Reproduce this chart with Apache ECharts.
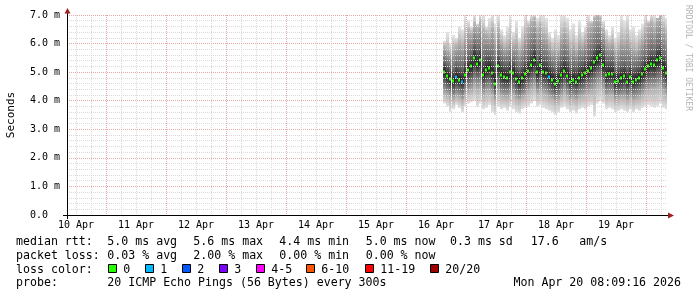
<!DOCTYPE html>
<html><head><meta charset="utf-8">
<script src="https://cdn.jsdelivr.net/npm/echarts@6/dist/echarts.min.js"></script>
<style>html,body{margin:0;padding:0;background:#fff}#c{width:697px;height:297px}</style>
</head><body><div id="c"></div>
<script>
// ---- axis / tick data (hours since Apr 10 00:00) ----
const START_H = 8.4, SPAN_H = 240;   // graph covers Apr 10 08:24 .. Apr 20 08:24
const dayLabels = ['10 Apr','11 Apr','12 Apr','13 Apr','14 Apr','15 Apr','16 Apr','17 Apr','18 Apr','19 Apr'];
const dayLabelHours = [12,36,60,84,108,132,156,180,204,228];
const midnightHours = [24,48,72,96,120,144,168,192,216,240];
const yTickLabels = ['0.0  ','1.0 m','2.0 m','3.0 m','4.0 m','5.0 m','6.0 m','7.0 m'];

// ---- series data: one column every 1.2 h starting Apr 16 15:12 (hour 159.2) ----
const T0 = 159.2, STEP = 1.2;
const medianMs = [5.02,4.85,4.75,4.68,4.82,4.73,4.67,4.9,5.08,5.2,5.5,5.3,5.43,4.9,5.08,5.14,4.97,4.6,5.2,4.9,
 4.83,4.8,5.0,4.97,4.75,4.67,4.8,4.95,5.05,5.25,5.43,5.0,5.25,5.0,4.97,4.84,4.73,4.6,4.7,4.9,
 5.05,4.88,4.67,4.73,4.67,4.8,4.9,4.97,5.05,5.15,5.35,5.5,5.6,5.25,4.9,4.94,4.94,4.65,4.7,4.8,
 4.85,4.67,4.84,4.67,4.73,4.8,4.95,5.1,5.2,5.3,5.25,5.43,5.5,5.15,4.97];
const lossCount = [0,0,0,0,1,0,1,0,0,0,0,0,0,0,0,0,0,0,0,0,
 0,0,0,0,0,0,0,0,0,0,0,0,0,0,0,1,0,0,0,0,
 0,0,0,0,0,0,0,0,0,0,0,0,0,0,0,0,0,0,0,0,
 0,0,0,0,0,0,0,0,0,0,0,0,0,0,0];
const smokeMax = [6.1,6.4,6.0,6.3,6.2,6.6,6.5,7.0,6.8,6.6,7.0,6.7,7.0,7.0,6.6,6.9,7.0,6.7,7.0,6.5,
 6.3,6.6,7.0,6.4,6.8,6.2,6.6,7.0,6.8,7.0,7.0,6.9,7.0,7.0,6.9,6.4,6.2,6.5,6.3,7.0,
 7.0,6.9,6.5,6.7,6.3,6.8,6.4,6.6,7.0,6.8,7.0,7.0,7.0,6.8,6.5,6.3,6.6,6.2,6.4,7.0,
 6.8,7.0,6.5,6.6,6.3,6.5,6.7,7.0,6.8,7.0,7.0,6.9,7.0,7.0,6.9];
const smokeP90 = [5.9,5.8,5.7,5.85,5.95,6.1,6.0,6.3,6.5,6.4,6.7,6.6,6.8,6.5,6.4,6.3,6.6,6.2,6.5,6.1,
 5.9,6.0,6.2,6.0,6.1,5.8,6.0,6.4,6.6,6.8,6.9,6.5,6.7,6.4,6.3,6.0,5.8,5.9,5.8,6.3,
 6.5,6.3,5.9,6.0,5.8,6.1,6.0,6.2,6.6,6.7,6.9,7.0,6.9,6.5,6.1,6.0,6.1,5.8,5.9,6.2,
 6.1,6.3,6.0,5.9,5.8,6.0,6.2,6.5,6.7,6.8,6.6,6.9,7.0,6.6,6.4];
const smokeP75 = [5.35,5.25,5.15,5.1,5.25,5.2,5.15,5.4,5.55,5.65,5.95,5.8,5.9,5.5,5.6,5.6,5.5,5.3,5.6,5.4,
 5.3,5.3,5.45,5.4,5.2,5.1,5.25,5.4,5.55,5.75,5.9,5.5,5.7,5.5,5.45,5.3,5.2,5.1,5.2,5.4,
 5.55,5.4,5.15,5.2,5.15,5.3,5.35,5.45,5.55,5.65,5.85,6.0,6.05,5.75,5.4,5.4,5.4,5.1,5.15,5.25,
 5.3,5.15,5.3,5.15,5.2,5.25,5.4,5.55,5.65,5.75,5.7,5.9,5.95,5.6,5.45];
const smokeP25 = [4.65,4.55,4.45,4.4,4.5,4.45,4.4,4.6,4.7,4.8,5.0,4.9,4.95,4.6,4.7,4.75,4.6,4.35,4.8,4.55,
 4.5,4.5,4.6,4.6,4.45,4.35,4.45,4.55,4.7,4.85,4.95,4.65,4.8,4.65,4.6,4.5,4.4,4.3,4.4,4.55,
 4.7,4.55,4.4,4.45,4.4,4.5,4.55,4.6,4.7,4.8,4.9,5.05,5.1,4.85,4.55,4.6,4.6,4.35,4.4,4.45,
 4.5,4.4,4.5,4.4,4.45,4.5,4.6,4.7,4.8,4.85,4.85,4.95,5.0,4.75,4.6];
const smokeP10 = [4.25,4.2,4.1,4.05,4.15,4.1,4.0,4.2,4.3,4.35,4.5,4.4,4.45,4.2,4.3,4.3,4.2,4.0,4.3,4.15,
 4.1,4.1,4.2,4.2,4.05,4.0,4.1,4.15,4.3,4.4,4.5,4.25,4.35,4.25,4.2,4.1,4.05,3.95,4.0,4.15,
 4.3,4.15,4.0,4.05,4.0,4.1,4.15,4.2,4.25,4.3,4.35,4.5,4.55,4.4,4.15,4.2,4.2,4.0,4.05,4.1,
 4.1,4.0,4.1,4.0,4.05,4.1,4.2,4.3,4.35,4.4,4.4,4.45,4.5,4.3,4.2];
const smokeMin = [3.9,3.8,3.6,3.7,3.85,3.75,3.6,3.8,3.9,3.95,4.0,3.8,3.9,3.7,3.75,3.85,3.6,3.5,3.8,3.7,
 3.75,3.65,3.8,3.7,3.6,3.55,3.7,3.75,3.8,3.9,4.0,3.8,3.85,3.75,3.7,3.65,3.6,3.5,3.6,3.75,
 3.8,3.7,3.6,3.65,3.55,3.7,3.75,3.7,3.8,3.85,3.45,3.9,4.0,3.9,3.7,3.75,3.7,3.6,3.65,3.7,
 3.65,3.6,3.7,3.6,3.7,3.65,3.75,3.8,3.85,3.8,3.75,3.8,3.9,3.75,3.7];

const lossColors = ['#26ff00','#00b8ff','#0059ff','#7e00ff','#ff00ff','#ff5500','#ff0000','#a10000'];
const lossLabels = ['0','1','2','3','4-5','6-10','11-19','20/20'];

// ---- build rows (x = hours since graph start) ----
const rel = h => +(h - START_H).toFixed(4);
const rows = medianMs.map((m, i) => [rel(T0 + i * STEP), smokeMin[i], smokeP10[i], smokeP25[i], m, smokeP75[i], smokeP90[i], smokeMax[i], lossCount[i]]);
const minorHours = [];
for (let h = 12; h <= 246; h += 6) if (h % 24 !== 0) minorHours.push(rel(h));
const majorRel = midnightHours.map(rel);
const labelRel = dayLabelHours.map(rel);

function lossColor(n){
  if (n <= 0) return lossColors[0];
  if (n === 1) return lossColors[1];
  if (n === 2) return lossColors[2];
  if (n === 3) return lossColors[3];
  if (n <= 5) return lossColors[4];
  if (n <= 10) return lossColors[5];
  if (n <= 19) return lossColors[6];
  return lossColors[7];
}

function colBounds(api, t){
  const xL = Math.round(api.coord([t - STEP/2, 0])[0]);
  const xR = Math.round(api.coord([t + STEP/2, 0])[0]);
  return [xL, xR - xL];
}

function renderSmoke(params, api){
  const t = api.value(0);
  const [x, w] = colBounds(api, t);
  const Y = v => api.coord([t, Math.min(v, 7)])[1];
  const vals = [7,6,5,4,3,2,1].map(k => api.value(k)); // top,p90,p75,med,p25,p10,bot
  const ys = vals.map(Y);
  const h = Math.max(1, ys[6] - ys[0]);
  const cols = ['#e6e6e6','#b6b6b6','#6a6a6a','#202020','#686868','#b2b2b2','#e2e2e2'];
  const stops = ys.map((y, k) => ({offset: Math.min(1, Math.max(0, (y - ys[0]) / h)), color: cols[k]}));
  return {type:'rect', shape:{x:x, y:ys[0], width:w, height:h},
    style:{fill:new echarts.graphic.LinearGradient(0,0,0,1,stops)}};
}

function renderMedian(params, api){
  const t = api.value(0);
  const [x, w] = colBounds(api, t);
  const y = api.coord([t, api.value(4)])[1];
  return {type:'rect', shape:{x:x, y:Math.round(y)-1.5, width:2, height:3},
          style:{fill:lossColor(api.value(8))}};
}

const MONO = 'DejaVu Sans Mono';
const chart = echarts.init(document.getElementById('c'), null, {renderer:'canvas'});

const legendTexts = [
  [16,241.5,'median rtt:'],[107.3,241.5,'5.0 ms avg'],[193.3,241.5,'5.6 ms max'],[279.3,241.5,'4.4 ms min'],
  [365.7,241.5,'5.0 ms now'],[450,241.5,'0.3 ms sd'],[530.7,241.5,'17.6'],[579.3,241.5,'am/s'],
  [16,255.5,'packet loss:'],[107.3,255.5,'0.03 % avg'],[193.3,255.5,'2.00 % max'],[279.3,255.5,'0.00 % min'],[365.7,255.5,'0.00 % now'],
  [16,269.5,'loss color:'],
  [16,283,'probe:'],[107.3,283,'20 ICMP Echo Pings (56 Bytes) every 300s']
];
const boxX = [108.5,145.5,182.5,219.5,256.5,306.5,365.5,430.5];
const graphics = [];
legendTexts.forEach(([x,y,s]) => graphics.push({type:'text', x:x, y:y, z:20,
  style:{text:s, fill:'#000', font:'11.6px "'+MONO+'"', textAlign:'left', textVerticalAlign:'middle'}}));
boxX.forEach((bx, i) => {
  graphics.push({type:'rect', z:20, shape:{x:bx, y:264.5, width:8, height:8}, style:{fill:lossColors[i], stroke:'#000', lineWidth:1}});
  graphics.push({type:'text', z:20, x:bx+14.8, y:269.5, style:{text:lossLabels[i], fill:'#000', font:'11.6px "'+MONO+'"', textAlign:'left', textVerticalAlign:'middle'}});
});
graphics.push({type:'text', z:20, x:681, y:283, style:{text:'Mon Apr 20 08:09:16 2026', fill:'#000', font:'11.6px "'+MONO+'"', textAlign:'right', textVerticalAlign:'middle'}});
graphics.push({type:'text', z:20, x:688, y:5, rotation:-Math.PI/2, style:{text:'RRDTOOL / TOBI OETIKER', fill:'#b4b4b4', font:'8px "'+MONO+'"', textAlign:'left', textVerticalAlign:'middle'}});
// axis line extensions (like rrdtool) and arrows
graphics.push({type:'line', z:20, shape:{x1:63, y1:215.5, x2:668, y2:215.5}, style:{stroke:'#000', lineWidth:1}});
graphics.push({type:'line', z:20, shape:{x1:67.5, y1:219, x2:67.5, y2:12}, style:{stroke:'#000', lineWidth:1}});
graphics.push({type:'polygon', z:21, shape:{points:[[64.5,13.5],[70.5,13.5],[67.5,8]]}, style:{fill:'#a02020'}});
graphics.push({type:'polygon', z:21, shape:{points:[[668,212.5],[668,218.5],[674,215.5]]}, style:{fill:'#a02020'}});

chart.setOption({
  animation:false,
  backgroundColor:'#ffffff',
  grid:{left:67, top:15, right:30, bottom:82, containLabel:false, outerBoundsMode:'none'},
  xAxis:[{
    type:'value', min:0, max:SPAN_H, z:5,
    axisLine:{show:false},
    axisTick:{show:false, customValues:minorHours},
    splitLine:{show:true, lineStyle:{color:'#dadada', width:1, type:[1,1]}},
    axisLabel:{show:true, customValues:labelRel, margin:5, hideOverlap:false,
      formatter:v => { const k = labelRel.findIndex(r => Math.abs(r - v) < 1e-6); return k >= 0 ? dayLabels[k] : ''; },
      fontFamily:MONO, fontSize:10, color:'#000'}
  },{
    type:'value', min:0, max:SPAN_H, z:6, position:'bottom',
    axisLine:{show:false},
    axisTick:{show:false, customValues:majorRel},
    axisLabel:{show:false},
    splitLine:{show:true, lineStyle:{color:'#eaa8a8', width:1, type:[1,1]}}
  }],
  yAxis:{
    type:'value', min:0, max:7, interval:1, z:6,
    name:'Seconds', nameLocation:'middle', nameGap:50, nameRotate:90,
    nameTextStyle:{fontFamily:MONO, fontSize:11, color:'#000'},
    axisLine:{show:false}, axisTick:{show:false},
    axisLabel:{margin:7, fontFamily:MONO, fontSize:10, color:'#000',
      formatter:v => yTickLabels[Math.round(v)]},
    splitLine:{show:true, lineStyle:{color:'#eaa8a8', width:1, type:[1,1]}},
    minorTick:{show:false, splitNumber:5},
    minorSplitLine:{show:true, lineStyle:{color:'#dadada', width:1, type:[1,1]}}
  },
  graphic:graphics,
  series:[
    {type:'custom', xAxisIndex:0, yAxisIndex:0, z:2, clip:true, renderItem:renderSmoke, data:rows, silent:true},
    {type:'custom', xAxisIndex:0, yAxisIndex:0, z:3, clip:true, renderItem:renderMedian, data:rows, silent:true}
  ]
});
</script></body></html>
